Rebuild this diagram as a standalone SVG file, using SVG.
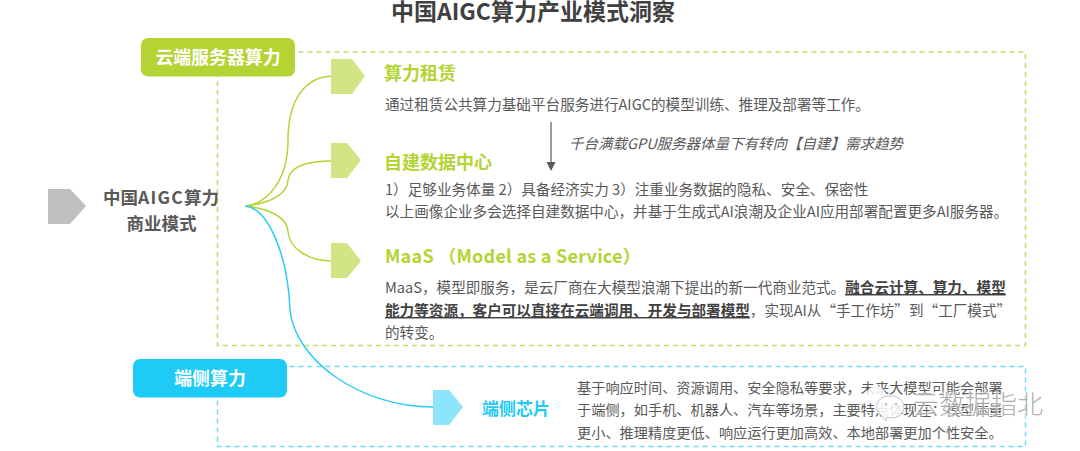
<svg xmlns="http://www.w3.org/2000/svg" width="1080" height="451" viewBox="0 0 1080 451">
<style>
text{font-family:"Noto Sans CJK SC","Noto Sans",sans-serif}
.b{font-size:14.600px;fill:#595959}
.k{font-size:14.200px;fill:#595959}
.u{font-weight:700;fill:#404040;text-decoration:underline}
.g{font-size:18px;font-weight:700;fill:#b4d433}
.h{font-size:17.500px;font-weight:700;fill:#595959;text-anchor:middle}
.w{font-size:17.900px;font-weight:700;fill:#fff;text-anchor:middle}
.c{fill:none;stroke-width:1.5}
</style>
<rect width="1080" height="451" fill="#fff"/>
<text id="title" x="533" y="20" font-size="23" font-weight="700" fill="#404040" text-anchor="middle">中国AIGC算力产业模式洞察</text>
<g id="frames" fill="none" stroke-width="1.500" stroke-dasharray="5 4">
<rect x="217.500" y="52" width="808" height="293.500" stroke="#c6dc62"/>
<rect x="217.500" y="366.500" width="808" height="80" stroke="#74dcf6"/>
</g>
<g id="connectors">
<path class="c" stroke="#b4d433" d="M246 206C268 203 288 180 288 140C288 100 305 77 332 76"/>
<path class="c" stroke="#b4d433" d="M246 206C262 204 287 198 288 180C290 165 310 161 332 161"/>
<path class="c" stroke="#b4d433" d="M246 206C262 208 287 214 288 232C290 250 310 261 332 261"/>
<path class="c" stroke="#2accf5" d="M245 206C268 208 288 255 290 310C295 360 360 407 433 407"/>
<path fill="none" stroke="#595959" stroke-width="1.200" d="M551 122V165"/>
<path fill="#595959" d="M546.500 162h9l-4.500 9z"/>
</g>
<g id="root">
<path d="M48 189H70L86 206L70 224H48Z" fill="#bfbfbf"/>
<text class="h" x="161" y="204">中国<tspan letter-spacing="1.200">AIGC</tspan>算力</text>
<text class="h" x="161.500" y="230">商业模式</text>
</g>
<g id="cloud">
<rect x="141" y="38" width="154" height="38.500" rx="7" fill="#b4d433"/>
<text class="w" x="218" y="64">云端服务器算力</text>
</g>
<g id="rental">
<path d="M331 59H352L365 76L352 94H331Z" fill="#d2e585"/>
<text class="g" x="384" y="80">算力租赁</text>
<text class="b" x="385" y="110">通过租赁公共算力基础平台服务进行AIGC的模型训练、推理及部署等工作。</text>
</g>
<g id="trend">
<text x="569" y="149" font-size="14.500" font-style="italic" fill="#595959">千台满载GPU服务器体量下有转向【自建】需求趋势</text>
</g>
<g id="selfbuilt">
<path d="M331 143H347L361 160L347 178H331Z" fill="#d2e585"/>
<text class="g" x="384" y="169">自建数据中心</text>
<text class="b" x="385" y="195">1）足够业务体量 2）具备经济实力 3）注重业务数据的隐私、安全、保密性</text>
<text class="b" x="385" y="217">以上画像企业多会选择自建数据中心，并基于生成式AI浪潮及企业AI应用部署配置更多AI服务器。</text>
</g>
<g id="maas">
<path d="M331 243H347L361 261L347 278H331Z" fill="#d2e585"/>
<text class="g" x="385" y="263" font-size="18.400" letter-spacing="0.250">MaaS （Model as a Service）</text>
<text class="b" x="385" y="293">MaaS，模型即服务，是云厂商在大模型浪潮下提出的新一代商业范式。<tspan class="u">融合云计算、算力、模型</tspan></text>
<text class="b" x="385" y="316"><tspan class="u">能力等资源，客户可以直接在云端调用、开发与部署模型</tspan>，实现AI从“手工作坊”到“工厂模式”</text>
<text class="b" x="385" y="338">的转变。</text>
</g>
<g id="edge">
<rect x="133" y="359" width="154" height="38.500" rx="7" fill="#1fcbf6"/>
<text class="w" x="210" y="385">端侧算力</text>
</g>
<g id="chip">
<path d="M433 390H449L463 407L449 425H433Z" fill="#8ce5fa"/>
<text x="482" y="415" font-size="17" font-weight="700" fill="#1fcbf6">端侧芯片</text>
<text class="k" x="577" y="393">基于响应时间、资源调用、安全隐私等要求，未来大模型可能会部署</text>
<text class="k" x="577" y="415">于端侧，如手机、机器人、汽车等场景，主要特点体现在：模型体量</text>
<text class="k" x="577" y="438">更小、推理精度更低、响应运行更加高效、本地部署更加个性安全。</text>
</g>
<g id="watermark">
<ellipse cx="876" cy="394" rx="9" ry="8" fill="#fff" fill-opacity="0.85"/>
<path d="M891 396a12 11 0 1 1 -4 21l-1 4-4-5a12 11 0 0 1 5-20z" fill="#fff" fill-opacity="0.85" stroke="#c4c4c4" stroke-width="1"/>
<circle cx="886" cy="404" r="1" fill="#aaa"/>
<circle cx="896" cy="404" r="1" fill="#aaa"/>
<text x="913" y="414" font-size="26" font-weight="300" fill="#8c8c8c" fill-opacity="0.7" stroke="#fff" stroke-opacity="0.6" stroke-width="2" paint-order="stroke">云数据指北</text>
</g>
</svg>
